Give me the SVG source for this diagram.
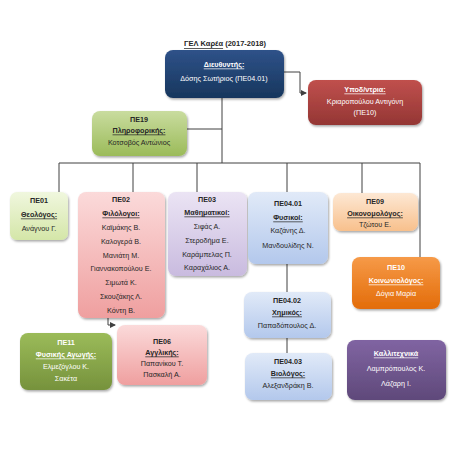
<svg xmlns="http://www.w3.org/2000/svg" width="453" height="453" viewBox="0 0 453 453">
<defs>
<style>
text{font-family:"Liberation Sans",Arial,sans-serif;font-size:7.2px;text-anchor:middle;dominant-baseline:central;fill:#262626}
.b{font-weight:bold}
.u{text-decoration:underline;font-weight:bold}
.w{fill:#ffffff}
.c{fill:none;stroke:#404040;stroke-width:1}
.box{filter:url(#sh)}
</style>
<filter id="sh" x="-10%" y="-10%" width="130%" height="130%"><feDropShadow dx="1" dy="1.5" stdDeviation="1.2" flood-color="#000" flood-opacity="0.35"/></filter>
<marker id="ar" viewBox="0 0 6 6" refX="5" refY="3" markerWidth="6" markerHeight="6" orient="auto"><path d="M0,0 L6,3 L0,6 z" fill="#404040"/></marker>
<linearGradient id="gNavy" x1="0" y1="0" x2="0" y2="1"><stop offset="0" stop-color="#2f5289"/><stop offset="1" stop-color="#17365d"/></linearGradient>
<linearGradient id="gRed" x1="0" y1="0" x2="0" y2="1"><stop offset="0" stop-color="#c0504d"/><stop offset="1" stop-color="#943634"/></linearGradient>
<linearGradient id="gOlive" x1="0" y1="0" x2="0" y2="1"><stop offset="0" stop-color="#c9dc9f"/><stop offset="1" stop-color="#9bbb59"/></linearGradient>
<linearGradient id="gLGreen" x1="0" y1="0" x2="0" y2="1"><stop offset="0" stop-color="#f0f7de"/><stop offset="1" stop-color="#d4e6a8"/></linearGradient>
<linearGradient id="gPink" x1="0" y1="0" x2="0" y2="1"><stop offset="0" stop-color="#fbdada"/><stop offset="1" stop-color="#ef9f9f"/></linearGradient>
<linearGradient id="gLav" x1="0" y1="0" x2="0" y2="1"><stop offset="0" stop-color="#ebe4f4"/><stop offset="1" stop-color="#c9bbdf"/></linearGradient>
<linearGradient id="gBlue" x1="0" y1="0" x2="0" y2="1"><stop offset="0" stop-color="#e1eaf8"/><stop offset="1" stop-color="#b3c8ec"/></linearGradient>
<linearGradient id="gPeach" x1="0" y1="0" x2="0" y2="1"><stop offset="0" stop-color="#fde8d4"/><stop offset="1" stop-color="#f8c08c"/></linearGradient>
<linearGradient id="gOrange" x1="0" y1="0" x2="0" y2="1"><stop offset="0" stop-color="#f69a48"/><stop offset="1" stop-color="#e36c09"/></linearGradient>
<linearGradient id="gGreen" x1="0" y1="0" x2="0" y2="1"><stop offset="0" stop-color="#9bbb59"/><stop offset="1" stop-color="#76923c"/></linearGradient>
<linearGradient id="gPurple" x1="0" y1="0" x2="0" y2="1"><stop offset="0" stop-color="#8064a2"/><stop offset="1" stop-color="#5f497a"/></linearGradient>
</defs>
<rect width="453" height="453" fill="#ffffff"/>
<text x="225" y="43" class="b" style="font-size:7.5px"><tspan class="u">ΓΕΛ Καρέα</tspan> (2017-2018)</text>

<g id="connectors">
<path class="c" d="M284,72 H300 V93 H306" marker-end="url(#ar)"/>
<path class="c" d="M222,98 V163"/>
<path class="c" d="M187,129 H222"/>
<path class="c" d="M59,163 H420"/>
<path class="c" d="M59,163 V192"/>
<path class="c" d="M133,163 V192"/>
<path class="c" d="M197,163 V192"/>
<path class="c" d="M287,163 V192"/>
<path class="c" d="M362,163 V193"/>
<path class="c" d="M420,163 V257"/>
<path class="c" d="M287,264 V292"/>
<path class="c" d="M287,338 V353"/>
<path class="c" d="M108,318 V325 H115" marker-end="url(#ar)"/>
</g>

<g id="director">
<rect class="box" x="165" y="50" width="119" height="48" rx="8" fill="url(#gNavy)"/>
<text x="224" y="64" class="u w">Διευθυντής:</text>
<text x="224" y="78" class="w">Δόσης Σωτήριος (ΠΕ04.01)</text>
</g>
<g id="ypodieythyntria">
<rect class="box" x="308" y="80" width="114" height="45" rx="8" fill="url(#gRed)"/>
<text x="365" y="89" class="u w">Υποδ/ντρια:</text>
<text x="365" y="101" class="w">Κριαροπούλου Αντιγόνη</text>
<text x="365" y="112" class="w">(ΠΕ10)</text>
</g>
<g id="pe19">
<rect class="box" x="92" y="111" width="95" height="45" rx="8" fill="url(#gOlive)"/>
<text x="139" y="119" class="b">ΠΕ19</text>
<text x="139" y="130" class="u">Πληροφορικής:</text>
<text x="139" y="142">Κοτσοβός Αντώνιος</text>
</g>
<g id="pe01">
<rect class="box" x="10" y="192" width="58" height="48" rx="7" fill="url(#gLGreen)"/>
<text x="39" y="200" class="b">ΠΕ01</text>
<text x="39" y="214" class="u">Θεολόγος:</text>
<text x="39" y="228">Ανάγνου Γ.</text>
</g>
<g id="pe02">
<rect class="box" x="78" y="192" width="87" height="126" rx="8" fill="url(#gPink)"/>
<text x="121" y="199" class="b">ΠΕ02</text>
<text x="121" y="213" class="u">Φιλόλογοι:</text>
<text x="121" y="227">Καϊμάκης Β.</text>
<text x="121" y="241">Καλογερά Β.</text>
<text x="121" y="255">Μανιάτη Μ.</text>
<text x="121" y="268">Γιαννακοπούλου Ε.</text>
<text x="121" y="282">Σιμωτά Κ.</text>
<text x="121" y="296">Σκουζάκης Λ.</text>
<text x="121" y="310">Κόντη Β.</text>
</g>
<g id="pe03">
<rect class="box" x="168" y="192" width="79" height="84" rx="8" fill="url(#gLav)"/>
<text x="207" y="199" class="b">ΠΕ03</text>
<text x="207" y="212" class="u">Μαθηματικοί:</text>
<text x="207" y="226">Σιφάς Α.</text>
<text x="207" y="240">Στεροδήμα Ε.</text>
<text x="207" y="254">Καράμπελας Π.</text>
<text x="207" y="267">Καραχάλιος Α.</text>
</g>
<g id="pe0401">
<rect class="box" x="248" y="192" width="80" height="72" rx="8" fill="url(#gBlue)"/>
<text x="288" y="203" class="b">ΠΕ04.01</text>
<text x="288" y="217" class="u">Φυσικοί:</text>
<text x="288" y="230">Καζάνης Δ.</text>
<text x="288" y="245">Μανδουλίδης Ν.</text>
</g>
<g id="pe09">
<rect class="box" x="333" y="193" width="85" height="38" rx="8" fill="url(#gPeach)"/>
<text x="375" y="201" class="b">ΠΕ09</text>
<text x="375" y="213" class="u">Οικονομολόγος:</text>
<text x="375" y="224">Τζώτου Ε.</text>
</g>
<g id="pe10">
<rect class="box" x="352" y="257" width="88" height="52" rx="8" fill="url(#gOrange)"/>
<text x="396" y="267" class="b w">ΠΕ10</text>
<text x="396" y="280" class="u w">Κοινωνιολόγος:</text>
<text x="396" y="293" class="w">Δόγια Μαρία</text>
</g>
<g id="pe0402">
<rect class="box" x="244" y="292" width="87" height="46" rx="8" fill="url(#gBlue)"/>
<text x="287" y="300" class="b">ΠΕ04.02</text>
<text x="287" y="312" class="u">Χημικός:</text>
<text x="287" y="325">Παπαδόπουλος Δ.</text>
</g>
<g id="pe0403">
<rect class="box" x="245" y="353" width="87" height="47" rx="8" fill="url(#gBlue)"/>
<text x="288" y="361" class="b">ΠΕ04.03</text>
<text x="288" y="373" class="u">Βιολόγος:</text>
<text x="288" y="385">Αλεξανδράκη Β.</text>
</g>
<g id="pe06">
<rect class="box" x="117" y="325" width="90" height="60" rx="8" fill="url(#gPink)"/>
<text x="162" y="341" class="b">ΠΕ06</text>
<text x="162" y="352" class="u">Αγγλικής:</text>
<text x="162" y="363">Παπανίκου Τ.</text>
<text x="162" y="374">Πασκαλή Α.</text>
</g>
<g id="pe11">
<rect class="box" x="20" y="333" width="92" height="57" rx="8" fill="url(#gGreen)"/>
<text x="66" y="342" class="b w">ΠΕ11</text>
<text x="66" y="354" class="u w">Φυσικής Αγωγής:</text>
<text x="66" y="366" class="w">Ελμεζόγλου Κ.</text>
<text x="66" y="378" class="w">Σακέτα</text>
</g>
<g id="kallitexnika">
<rect class="box" x="347" y="340" width="99" height="60" rx="8" fill="url(#gPurple)"/>
<text x="396" y="353" class="u w">Καλλιτεχνικά</text>
<text x="396" y="368" class="w">Λαμπρόπουλος Κ.</text>
<text x="396" y="383" class="w">Λάζαρη Ι.</text>
</g>
</svg>
